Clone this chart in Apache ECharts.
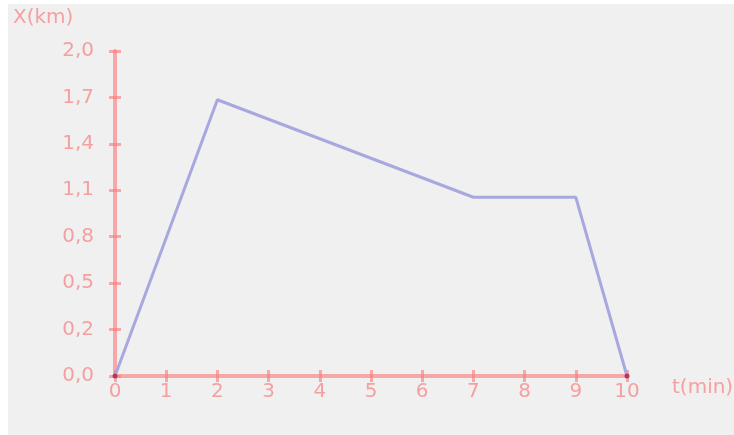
<!DOCTYPE html>
<html>
<head>
<meta charset="utf-8">
<script src="https://cdn.jsdelivr.net/npm/echarts@6/dist/echarts.min.js"></script>
<style>
  html, body { margin: 0; padding: 0; background: #ffffff; }
  #chart { position: absolute; left: 8px; top: 4px; width: 726px; height: 431px; background: #f0f0f0; }
</style>
</head>
<body>
<div id="chart"></div>
<script>
// time (min) and position (km)
const times = [0, 2, 7, 9, 10];
const positions = [0, 1.7, 1.1, 1.1, 0];
const xTickLabels = ['0', '1', '2', '3', '4', '5', '6', '7', '8', '9', '10'];
const yTickLabels = ['0,0', '0,2', '0,5', '0,8', '1,1', '1,4', '1,7', '2,0'];

const axisRed = 'rgba(250, 120, 120, 0.6)';
const labelRed = '#f5a0a0';
const font = 'DejaVu Sans';
const yStep = 2 / 7;

const chart = echarts.init(document.getElementById('chart'), null, { renderer: 'canvas' });

const grid = { left: 107, right: 107, top: 47, bottom: 59 };
const tickStyle = { color: axisRed, width: 3 };

function xAxisBase(extra) {
  return Object.assign({
    type: 'value', min: 0, max: 10, interval: 1, position: 'bottom',
    splitLine: { show: false },
    axisLine: { show: true, onZero: false, lineStyle: { color: axisRed, width: 4 } },
  }, extra);
}
function yAxisBase(extra) {
  return Object.assign({
    type: 'value', min: 0, max: 2, interval: yStep, position: 'left',
    splitLine: { show: false },
    axisLine: { show: true, onZero: false, lineStyle: { color: axisRed, width: 4 } },
  }, extra);
}

chart.setOption({
  animation: false,
  grid: grid,
  xAxis: [
    xAxisBase({
      axisTick: { show: true, length: 6, lineStyle: tickStyle },
      axisLabel: {
        color: labelRed, fontFamily: font, fontSize: 20, margin: 6,
        formatter: v => xTickLabels[Math.round(v)]
      }
    }),
    xAxisBase({
      axisLine: { show: false },
      axisTick: { show: true, inside: true, length: 6, lineStyle: tickStyle },
      axisLabel: { show: false }
    })
  ],
  yAxis: [
    yAxisBase({
      axisTick: { show: true, length: 6, lineStyle: tickStyle },
      axisLabel: {
        color: labelRed, fontFamily: font, fontSize: 20, margin: 21,
        formatter: v => yTickLabels[Math.round(v / yStep)]
      }
    }),
    yAxisBase({
      axisLine: { show: false },
      axisTick: { show: true, inside: true, length: 6, lineStyle: tickStyle },
      axisLabel: { show: false }
    })
  ],
  series: [{
    type: 'line',
    data: times.map((t, i) => [t, positions[i]]),
    lineStyle: { color: '#a8a8e0', width: 3 },
    symbol: 'circle',
    symbolSize: (val, p) => (p.dataIndex === 0 || p.dataIndex === times.length - 1) ? 5 : 0,
    itemStyle: { color: '#b3385e', borderWidth: 0 },
    z: 5
  }],
  graphic: [
    { type: 'text', left: 5, top: 4, style: { text: 'X(km)', fill: labelRed, font: '20px "DejaVu Sans"' } },
    { type: 'text', left: 664, top: 374, style: { text: 't(min)', fill: labelRed, font: '20px "DejaVu Sans"' } }
  ]
});
</script>
</body>
</html>
